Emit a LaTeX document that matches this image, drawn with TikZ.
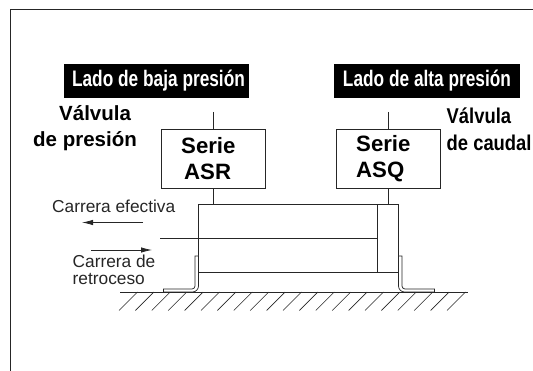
\documentclass[tikz,border=0pt]{standalone}
\usepackage{fontspec}
\usepackage{graphicx}
\setmainfont{Liberation Sans}
\usetikzlibrary{arrows.meta,calc}
\tikzset{
  ln/.style={draw=black!85,line width=0.8pt},
  serie/.style={ln,minimum width=104.5pt,minimum height=58.5pt,inner sep=0pt,outer sep=0pt},
  serietext/.style={inner sep=0pt,align=left,anchor=west,font=\bfseries\fontsize{22.2}{26}\selectfont},
  dark/.style={fill=black,text=white,minimum width=185pt,minimum height=34pt,inner sep=0pt,font=\bfseries\fontsize{21.6}{24}\selectfont},
  valve/.style={inner sep=0pt,align=left,font=\bfseries\fontsize{20.5}{26}\selectfont},
  valvenarrow/.style={inner sep=0pt,align=left,font=\bfseries\fontsize{21.4}{27}\selectfont},
  lbl/.style={inner sep=0pt,align=left,font=\fontsize{17.3}{16.5}\selectfont,text=black!85},
  arr/.style={draw=black!85,line width=0.8pt,-{Latex[length=11pt,width=5.5pt]}},
}
\begin{document}
\begin{tikzpicture}[x=1pt,y=-1pt]
\useasboundingbox (0,0) rectangle (533,371);
\draw[ln] (10.5,371) -- (10.5,9.5) -- (533,9.5);

\node[dark] (lowlab) at (156,81) {\hspace*{5pt}\scalebox{0.8}[1.04]{Lado de baja presión}};
\node[dark,minimum width=186pt] (highlab) at (427,81) {\scalebox{0.8}[1.04]{Lado de alta presión}};

\node[valve,anchor=west] (v1) at (33,128) {\hspace*{26pt}Válvula\\de presión};
\node[valvenarrow,anchor=west] (v2) at (446.5,129) {\scalebox{0.86}[1]{Válvula}\\\scalebox{0.86}[1]{de caudal}};

\node[serie] (asr) at (213.5,159) {};
\node[serie] (asq) at (388.2,159) {};
\node[serietext] (asrt) at (181,159) {Serie\\\hspace*{3pt}ASR};
\node[serietext] (asqt) at (356,159) {Serie\\ASQ};

\coordinate (t1) at (213.5,112);
\coordinate (t2) at (388.2,112);
\draw[ln] (t1) -- (asr.north);
\draw[ln] (t2) -- (asq.north);

% cylinder
\node[ln,minimum width=200pt,minimum height=68pt,inner sep=0pt,outer sep=0pt] (cyl) at (298.5,238.5) {};
\draw[ln] (asr.south) -- (asr.south |- cyl.north);
\draw[ln] (asq.south) -- (asq.south |- cyl.north);
\coordinate (headT) at (377.5,204.5);
\coordinate (headB) at (377.5,272.5);
\draw[ln] (headT) -- (headB);
\coordinate (rodL) at (160,238.5);
\draw[ln] (rodL) -- (rodL -| headT);

% ground
\coordinate (gl) at (120,292);
\coordinate (gr) at (468,292);
\draw[ln] (gl) -- (gr);
\foreach \i in {0,...,20} {
  \draw[draw=black!85,line width=0.6pt] ({119+\i*16.4},310.5) -- ({137.5+\i*16.4},292);
}

% brackets
\draw[draw=black!85,line width=0.7pt,fill=white]
  (195,256) -- (198.5,256) -- (198.5,286) arc[start angle=0,end angle=90,radius=6] -- (163.5,292) -- (163.5,289) -- (192,289) arc[start angle=90,end angle=0,radius=3] -- cycle;
\draw[draw=black!85,line width=0.7pt,fill=white]
  (402,256) -- (398.5,256) -- (398.5,286) arc[start angle=180,end angle=90,radius=6] -- (434.5,292) -- (434.5,289) -- (405,289) arc[start angle=90,end angle=180,radius=3] -- cycle;

% strokes
\node[lbl,anchor=west] (c1) at (52,206) {Carrera efectiva};
\coordinate (a1s) at (143,222.5);
\coordinate (a1e) at (82,222.5);
\draw[arr] (a1s) -- (a1e);
\coordinate (a2s) at (91,250);
\coordinate (a2e) at (152,250);
\draw[arr] (a2s) -- (a2e);
\node[lbl,anchor=west] (c2) at (72.5,270) {Carrera de\\retroceso};
\end{tikzpicture}
\end{document}
